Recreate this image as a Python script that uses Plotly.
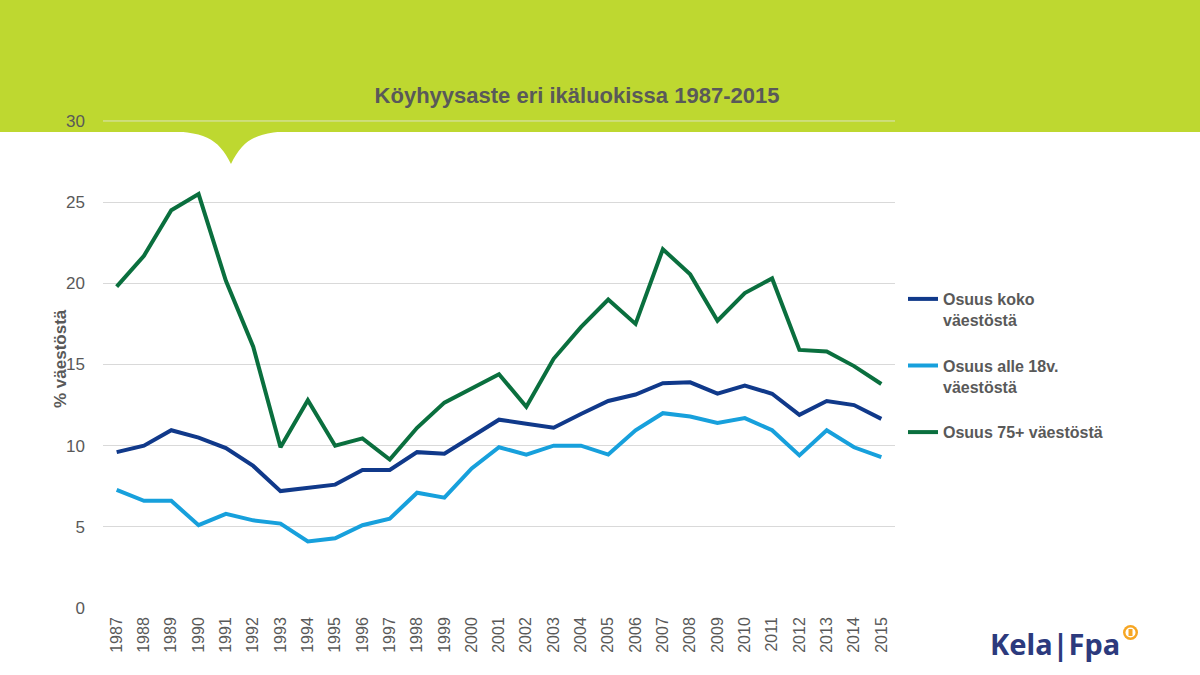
import plotly.graph_objects as go

years = [str(y) for y in range(1987, 2016)]
koko = [9.6, 10.0, 10.95, 10.5, 9.85, 8.75, 7.2, 7.4, 7.6, 8.5, 8.5, 9.6, 9.5, 10.55,
        11.6, 11.35, 11.1, 11.95, 12.75, 13.15, 13.85, 13.9, 13.2, 13.7, 13.2, 11.9,
        12.75, 12.5, 11.65]
alle18 = [7.27, 6.6, 6.6, 5.1, 5.8, 5.4, 5.2, 4.1, 4.3, 5.1, 5.5, 7.1, 6.8, 8.6,
          9.9, 9.45, 10.0, 10.0, 9.45, 10.95, 12.0, 11.8, 11.4, 11.7, 10.95, 9.4,
          10.95, 9.9, 9.3]
yli75 = [19.8, 21.7, 24.5, 25.5, 20.15, 16.1, 9.9, 12.8, 10.0, 10.45, 9.15, 11.1,
         12.65, 13.5, 14.4, 12.4, 15.35, 17.3, 19.0, 17.5, 22.1, 20.55, 17.7, 19.4,
         20.3, 15.9, 15.8, 14.9, 13.8]
names = ["Osuus koko<br>väestöstä", "Osuus alle 18v.<br>väestöstä", "Osuus 75+ väestöstä"]
colors = ["#10398A", "#17A0DC", "#0A6F3E"]
yticks = [0, 5, 10, 15, 20, 25, 30]

W, H = 1200, 675
L, R, T, B = 103, 895, 120, 608
YMAX = 30.06


def px(x):
    return (x - L) / (R - L)


def py(y):
    return (B - y) / (B - T)


fig = go.Figure()
for i, (vals, nm) in enumerate(zip([koko, alle18, yli75], names)):
    fig.add_trace(go.Scatter(x=years, y=vals, mode="lines", name=nm,
                             legendgroup=f"g{i}",
                             line=dict(color=colors[i], width=4)))

GREEN = "#BED830"
shapes = [
    dict(type="rect", xref="paper", yref="paper", x0=px(0), x1=px(W), y0=py(132), y1=py(0),
         fillcolor=GREEN, line=dict(width=0), layer="below"),
]
# notch
pts = [(158, 131), (205, 131), (218, 138), (231, 164), (244, 138), (257, 131), (302, 131)]
path = (f"M {px(pts[0][0])},{py(pts[0][1])} "
        f"C {px(pts[1][0])},{py(pts[1][1])} {px(pts[2][0])},{py(pts[2][1])} {px(pts[3][0])},{py(pts[3][1])} "
        f"C {px(pts[4][0])},{py(pts[4][1])} {px(pts[5][0])},{py(pts[5][1])} {px(pts[6][0])},{py(pts[6][1])} Z")
shapes.append(dict(type="path", xref="paper", yref="paper", path=path,
                   fillcolor=GREEN, line=dict(width=0), layer="below"))
# top gridline (hidden by plotly at the range edge)
shapes.append(dict(type="line", xref="paper", yref="y", x0=0, x1=1, y0=yticks[-1], y1=yticks[-1],
                   line=dict(color="#DDE3C0", width=1), layer="below"))
# logo icon
shapes.append(dict(type="circle", xref="paper", yref="paper",
                   x0=px(1123), x1=px(1138), y0=py(640), y1=py(625),
                   fillcolor="#F6A623", line=dict(width=0)))
shapes.append(dict(type="circle", xref="paper", yref="paper",
                   x0=px(1125.5), x1=px(1135.5), y0=py(637.5), y1=py(627.5),
                   fillcolor="white", line=dict(width=0)))
shapes.append(dict(type="rect", xref="paper", yref="paper",
                   x0=px(1128.5), x1=px(1132.5), y0=py(636), y1=py(629),
                   fillcolor="#F6A623", line=dict(width=0)))

annotations = [
    dict(text="<b>% väestöstä</b>", xref="paper", yref="paper", x=px(60), y=py(359),
         textangle=-90, showarrow=False, xanchor="center", yanchor="middle",
         font=dict(size=17, color="#595959", family="Liberation Sans, Arial")),
    dict(text="<b>Kela|Fpa</b>", xref="paper", yref="paper", x=px(1122), y=py(643),
         showarrow=False, xanchor="right", yanchor="middle",
         font=dict(size=29, color="#2C3A7D", family="Noto Sans, Open Sans")),
]

fig.update_layout(
    width=W, height=H,
    margin=dict(l=L, r=W - R, t=T, b=H - B, autoexpand=False),
    paper_bgcolor="white", plot_bgcolor="rgba(0,0,0,0)",
    title=dict(text="<b>Köyhyysaste eri ikäluokissa 1987-2015</b>", x=577 / W, y=1 - 95 / H,
               xanchor="center", yanchor="middle",
               font=dict(size=22, color="#595959", family="Liberation Sans, Arial")),
    font=dict(family="Liberation Sans, Arial", color="#595959"),
    showlegend=True,
    legend=dict(x=px(903), y=py(282), xanchor="left", yanchor="top",
                font=dict(size=16, color="#595959", family="Liberation Sans, Arial", weight="bold"),
                tracegroupgap=22, valign="top", bgcolor="rgba(0,0,0,0)"),
    shapes=shapes, annotations=annotations,
)
fig.update_xaxes(type="category", range=[-0.5, len(years) - 0.5], showgrid=False,
                 zeroline=False, showline=False, ticks="", ticklabelstandoff=5,
                 tickangle=-90, tickfont=dict(size=16, color="#595959"), automargin=False)
fig.update_yaxes(range=[0, YMAX], tickvals=yticks, showgrid=True,
                 gridcolor="#D9D9D9", gridwidth=1,
                 zeroline=False, showline=False, ticks="", ticklabelstandoff=17,
                 tickfont=dict(size=17, color="#595959"), automargin=False)

fig.write_html("out.html")
